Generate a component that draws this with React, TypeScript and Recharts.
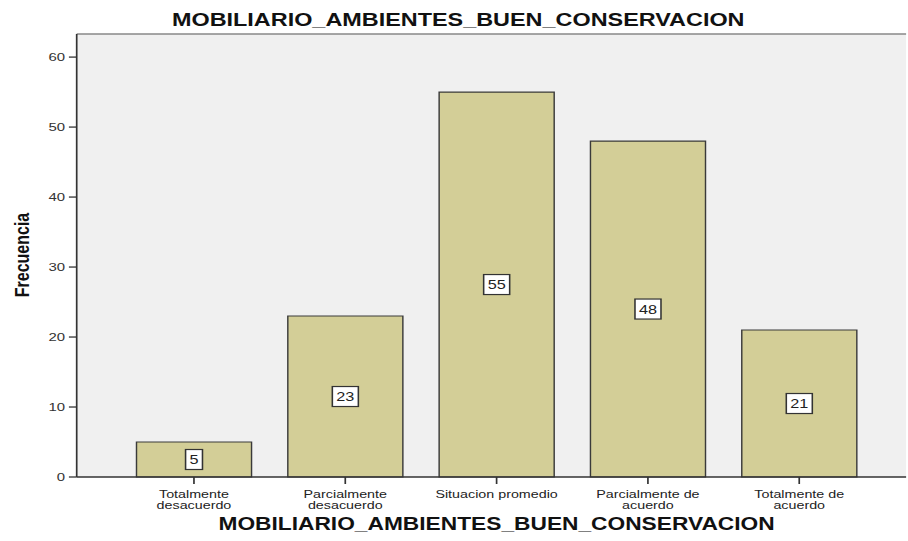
import React from 'react';
import {
  BarChart,
  Bar,
  XAxis,
  YAxis,
  CartesianGrid,
  LabelList,
  ReferenceLine,
} from 'recharts';

// categories (line-broken as in the original axis), frequencies and axis ticks
const categories = [
  'Totalmente\ndesacuerdo',
  'Parcialmente\ndesacuerdo',
  'Situacion promedio',
  'Parcialmente de\nacuerdo',
  'Totalmente de\nacuerdo',
];
const frequencies = [5, 23, 55, 48, 21];
const yTicks = [0, 10, 20, 30, 40, 50, 60];
const yMax = 63.3;

const titleText = 'MOBILIARIO_AMBIENTES_BUEN_CONSERVACION';
const xTitle = 'MOBILIARIO_AMBIENTES_BUEN_CONSERVACION';
const yTitle = 'Frecuencia';

const data = categories.map((name, i) => ({ name, value: frequencies[i] }));

const FONT = "'Liberation Sans', Arial, sans-serif";
const STRETCH = 1.3; // the original picture is stretched horizontally
const W = 698;
const H = 541;
const PAD_L = 32;
const PAD_R = 24;

const CategoryTick = (props: any) => {
  const { x, y, payload } = props;
  const lines = String(payload.value).split('\n');
  return (
    <text x={x} y={y} textAnchor="middle" fill="#222" fontSize={11} fontFamily={FONT}>
      {lines.map((line, i) => (
        <tspan key={i} x={x} dy={i === 0 ? 12 : 11.2}>
          {line}
        </tspan>
      ))}
    </text>
  );
};

const ValueBox = (props: any) => {
  const { x, y, width, height, value } = props;
  const cx = x + width / 2;
  const cy = y + height / 2;
  const bw = String(value).length * 7 + 6;
  const bh = 20;
  return (
    <g>
      <rect x={cx - bw / 2} y={cy - bh / 2} width={bw} height={bh} fill="#fff" stroke="#333" strokeWidth={1.2} />
      <text x={cx} y={cy} dy="0.36em" textAnchor="middle" fill="#222" fontSize={12.5} fontFamily={FONT}>
        {value}
      </text>
    </g>
  );
};

const XTitle = (props: any) => {
  const { viewBox } = props;
  const cx = viewBox.x + PAD_L + (viewBox.width - PAD_L - PAD_R) / 2;
  return (
    <text x={cx} y={viewBox.y + 53} textAnchor="middle" fill="#111" fontSize={17.5} fontWeight="bold" fontFamily={FONT}>
      {xTitle}
    </text>
  );
};

const YTitle = () => (
  <text
    transform="translate(17, 255) rotate(-90)"
    textAnchor="middle"
    dominantBaseline="central"
    fill="#111"
    fontSize={16}
    fontWeight="bold"
    fontFamily={FONT}
  >
    {yTitle}
  </text>
);

export default function App() {
  return (
    <div style={{ position: 'absolute', left: 0, top: 0, width: 908, height: H, overflow: 'hidden', background: '#fff' }}>
      <div style={{ position: 'relative', width: W, height: H, transform: `scaleX(${STRETCH})`, transformOrigin: '0 0' }}>
        <div
          style={{
            position: 'absolute',
            top: 11,
            left: 0,
            width: 705,
            textAlign: 'center',
            fontFamily: FONT,
            fontWeight: 'bold',
            fontSize: 18,
            lineHeight: '18px',
            color: '#111',
          }}
        >
          {titleText}
        </div>
        <BarChart width={W} height={H} data={data} margin={{ top: 34, right: 1, left: 0, bottom: 0 }}>
          <CartesianGrid fill="#F0F0F0" horizontal={false} vertical={false} />
          <ReferenceLine y={yMax} stroke="#888" strokeWidth={1.5} />
          <XAxis
            dataKey="name"
            interval={0}
            height={64}
            padding={{ left: PAD_L, right: PAD_R }}
            tickSize={7}
            tick={<CategoryTick />}
            axisLine={{ stroke: '#333', strokeWidth: 1.3 }}
            tickLine={{ stroke: '#333', strokeWidth: 1.3 }}
            label={<XTitle />}
          />
          <YAxis
            domain={[0, yMax]}
            ticks={yTicks}
            width={59}
            tickSize={6}
            tickMargin={3}
            tick={{ fill: '#333', fontSize: 11.5, fontFamily: FONT }}
            axisLine={{ stroke: '#333', strokeWidth: 1.3 }}
            tickLine={{ stroke: '#333', strokeWidth: 1.3 }}
            label={<YTitle />}
          />
          <Bar dataKey="value" fill="#D3CE97" stroke="#3a3a3a" strokeWidth={1.1} barSize={88.5} isAnimationActive={false}>
            <LabelList dataKey="value" content={<ValueBox />} />
          </Bar>
        </BarChart>
      </div>
    </div>
  );
}
